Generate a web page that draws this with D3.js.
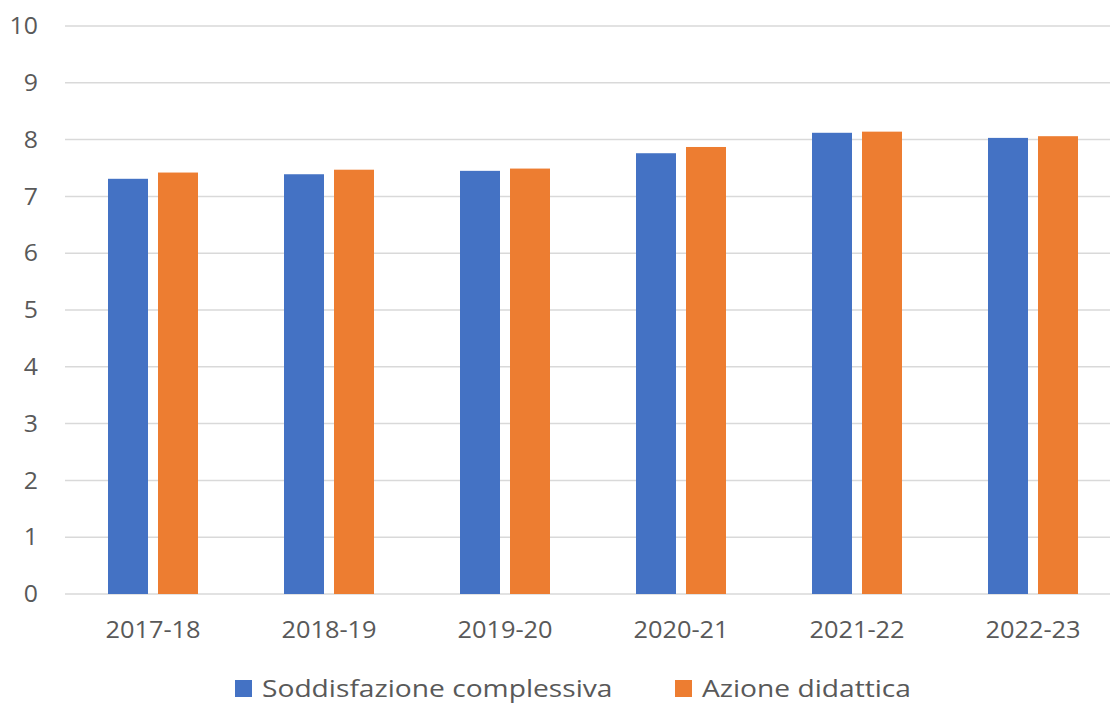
<!DOCTYPE html>
<html>
<head>
<meta charset="utf-8">
<script src="https://cdn.jsdelivr.net/npm/d3@7"></script>
<style>
  html, body { margin: 0; padding: 0; background: #fff; overflow: hidden; }
  svg text { font-family: "Open Sans", "Noto Sans", sans-serif; fill: #595959; }
</style>
</head>
<body>
<svg id="chart" width="1110" height="704"></svg>
<script>
const years = ["2017-18", "2018-19", "2019-20", "2020-21", "2021-22", "2022-23"];
const soddisfazione = [7.31, 7.39, 7.45, 7.76, 8.12, 8.03];
const azione = [7.42, 7.47, 7.49, 7.87, 8.14, 8.06];
const seriesNames = ["Soddisfazione complessiva", "Azione didattica"];
const seriesColors = ["#4472c4", "#ed7d31"];
const yTicks = [0, 1, 2, 3, 4, 5, 6, 7, 8, 9, 10];

const svg = d3.select("#chart");
const plotLeft = 65, plotRight = 1121, plotTop = 26, plotBottom = 594;

// category bands, then the two bars inside each band
const x = d3.scaleBand().domain(years).range([plotLeft, plotRight]).paddingInner(0).paddingOuter(0);
const inner = d3.scaleBand().domain([0, 1]).range([43, x.bandwidth() - 43]).paddingInner(0.2);
const y = d3.scaleLinear().domain([0, 10]).range([plotBottom, plotTop]);

// gridlines
svg.append("g")
  .selectAll("line")
  .data(yTicks)
  .join("line")
  .attr("x1", plotLeft).attr("x2", plotRight)
  .attr("y1", d => y(d)).attr("y2", d => y(d))
  .attr("stroke", "#d9d9d9")
  .attr("stroke-width", 1.5);

// y labels (the source picture is a bit stretched sideways, hence the scale)
svg.append("g")
  .selectAll("text")
  .data(yTicks)
  .join("text")
  .attr("transform", d => `translate(38,${y(d)}) scale(1.08,1)`)
  .attr("dy", "0.36em")
  .attr("text-anchor", "end")
  .attr("font-size", 23)
  .text(d => d);

// bars
const rows = years.map((yr, i) => ({yr, vals: [soddisfazione[i], azione[i]]}));
svg.append("g")
  .selectAll("g")
  .data(rows)
  .join("g")
  .attr("transform", d => `translate(${x(d.yr)},0)`)
  .selectAll("rect")
  .data(d => d.vals.map((v, k) => ({v, k})))
  .join("rect")
  .attr("x", d => inner(d.k))
  .attr("width", inner.bandwidth())
  .attr("y", d => y(d.v))
  .attr("height", d => y(0) - y(d.v))
  .attr("fill", d => seriesColors[d.k]);

// x labels
svg.append("g")
  .selectAll("text")
  .data(years)
  .join("text")
  .attr("transform", d => `translate(${x(d) + x.bandwidth() / 2},638) scale(1.08,1)`)
  .attr("text-anchor", "middle")
  .attr("font-size", 23.5)
  .text(d => d);

// legend
const legendX = [235, 675];
const lg = svg.append("g")
  .selectAll("g")
  .data(seriesNames)
  .join("g")
  .attr("transform", (d, i) => `translate(${legendX[i]},697)`);
lg.append("rect")
  .attr("x", 0).attr("y", -17)
  .attr("width", 17).attr("height", 17)
  .attr("fill", (d, i) => seriesColors[i]);
lg.append("text")
  .attr("transform", "translate(27,0) scale(1.15,1)")
  .attr("font-size", 24.5)
  .text(d => d);
</script>
</body>
</html>
